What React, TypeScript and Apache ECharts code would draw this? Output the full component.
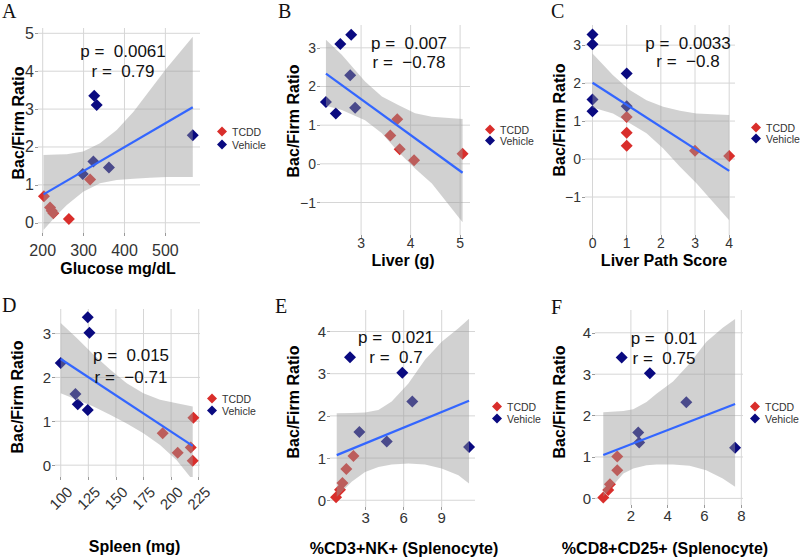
import React, { useEffect, useRef } from "react";
import * as echarts from "echarts";

const FONT = '"Liberation Sans", Arial, Helvetica, sans-serif';
const SERIF = '"Liberation Serif", "Times New Roman", serif';
const RED = "#D92E2B";
const NAVY = "#0A0A80";
const FIT_BLUE = "#3366FF";

// ---------- Panel A: Glucose ----------
const glucoseTicks = [200, 300, 400, 500];
const glucoseRatioTicks = [0, 1, 2, 3, 4, 5];
const glucoseTcdd = [[203, 0.7], [218, 0.4], [222, 0.32], [226, 0.25], [264, 0.1], [316, 1.14]];
const glucoseVehicle = [[298, 1.29], [324, 1.62], [362, 1.46], [326, 3.35], [332, 3.11], [567, 2.31]];
const glucoseFit = [[202, 0.75], [567, 3.05]];
const glucoseBandX = [202, 234, 259, 299, 340, 381, 422, 462, 503, 567];
const glucoseBandUpper = [1.79, 1.8, 1.81, 1.88, 2.1, 2.45, 2.93, 3.5, 4.08, 4.91];
const glucoseBandLower = [-0.19, 0.2, 0.47, 0.82, 1.04, 1.13, 1.16, 1.19, 1.21, 1.21];

// ---------- Panel B: Liver (g) ----------
const liverTicks = [3, 4, 5];
const liverRatioTicks = [-1, 0, 1, 2, 3];
const liverTcdd = [[3.59, 0.73], [3.73, 1.15], [3.78, 0.38], [4.07, 0.09], [5.05, 0.26]];
const liverVehicle = [[2.29, 1.6], [2.49, 1.3], [2.58, 3.1], [2.8, 3.34], [2.78, 2.29], [2.88, 1.45]];
const liverFit = [[2.29, 2.33], [5.05, -0.23]];
const liverBandX = [2.29, 2.61, 3.08, 3.42, 3.75, 4.09, 4.43, 5.05];
const liverBandUpper = [3.21, 2.82, 2.13, 1.74, 1.52, 1.31, 1.22, 1.16];
const liverBandLower = [1.5, 1.39, 1.13, 0.79, 0.31, -0.12, -0.51, -1.51];

// ---------- Panel C: Liver Path Score ----------
const pathTicks = [0, 1, 2, 3, 4];
const pathRatioTicks = [-1, 0, 1, 2, 3];
const pathTcdd = [[1, 1.11], [1, 0.69], [1, 0.35], [3, 0.22], [4, 0.08]];
const pathVehicle = [[0, 3.28], [0, 3.02], [0, 1.57], [0, 1.26], [1, 2.25], [1, 1.39]];
const pathFit = [[0, 2.01], [4, -0.31]];
const pathBandX = [0, 0.6, 1.09, 1.58, 2.07, 2.56, 3.04, 4.0];
const pathBandUpper = [2.78, 2.21, 1.82, 1.55, 1.38, 1.27, 1.2, 1.16];
const pathBandLower = [1.36, 1.2, 0.94, 0.68, 0.28, -0.2, -0.64, -1.61];

// ---------- Panel D: Spleen (mg) ----------
const spleenTicks = [100, 125, 150, 175, 200, 225];
const spleenRatioTicks = [0, 1, 2, 3];
const spleenTcdd = [[192.4, 0.73], [206, 0.28], [217.8, 0.4], [219.6, 0.1], [220.2, 1.08]];
const spleenVehicle = [[100, 2.33], [124.5, 3.37], [126, 3.02], [113.3, 1.62], [115.4, 1.39], [124.5, 1.26]];
const spleenFit = [[100, 2.42], [219.6, 0.44]];
const spleenBandX = [100, 114.5, 129.6, 144.7, 159.8, 174.9, 190, 205.1, 219.6];
const spleenBandUpper = [3.24, 2.9, 2.52, 2.18, 1.87, 1.64, 1.49, 1.41, 1.34];
const spleenBandLower = [1.64, 1.49, 1.34, 1.15, 0.95, 0.73, 0.46, 0.11, -0.34];

// ---------- Panel E: %CD3+NK+ ----------
const nkTicks = [3, 6, 9];
const nkRatioTicks = [0, 1, 2, 3, 4];
const nkTcdd = [[2.03, 1.05], [1.47, 0.74], [1.16, 0.41], [0.97, 0.25], [0.66, 0.07]];
const nkVehicle = [[1.76, 3.39], [5.89, 3.02], [6.68, 2.34], [2.5, 1.62], [4.66, 1.39], [11.16, 1.26]];
const nkFit = [[0.71, 1.07], [11.16, 2.36]];
const nkBandX = [0.71, 1.89, 2.95, 4.0, 5.05, 6.37, 7.68, 9.0, 10.32, 11.16];
const nkBandUpper = [2.06, 2.07, 2.08, 2.14, 2.34, 2.77, 3.33, 3.76, 4.08, 4.3];
const nkBandLower = [0.08, 0.44, 0.67, 0.79, 0.85, 0.87, 0.85, 0.75, 0.59, 0.4];

// ---------- Panel F: %CD8+CD25+ ----------
const cd25Ticks = [2, 4, 6, 8];
const cd25RatioTicks = [0, 1, 2, 3, 4];
const cd25Tcdd = [[1.26, 1.01], [1.26, 0.68], [0.86, 0.34], [0.77, 0.2], [0.5, 0.02]];
const cd25Vehicle = [[1.5, 3.4], [3.03, 3.02], [5.01, 2.32], [2.4, 1.59], [2.45, 1.35], [7.66, 1.22]];
const cd25Fit = [[0.5, 1.05], [7.66, 2.28]];
const cd25BandX = [0.5, 1.59, 2.13, 2.85, 3.39, 4.29, 5.19, 6.09, 6.99, 7.66];
const cd25BandUpper = [2.08, 2.11, 2.15, 2.33, 2.53, 2.82, 3.26, 3.78, 4.12, 4.33];
const cd25BandLower = [0.04, 0.6, 0.72, 0.8, 0.82, 0.82, 0.79, 0.68, 0.48, 0.28];

const panelLetters = ["A", "B", "C", "D", "E", "F"];
const xTitles = ["Glucose mg/dL", "Liver (g)", "Liver Path Score", "Spleen (mg)", "%CD3+NK+ (Splenocyte)", "%CD8+CD25+ (Splenocyte)"];
const yTitle = "Bac/Firm Ratio";
const pTexts = ["p =  0.0061", "p =  0.007", "p =  0.0033", "p =  0.015", "p =  0.021", "p =  0.01"];
const rTexts = ["r =  0.79", "r =  \u22120.78", "r =  \u22120.8", "r =  \u22120.71", "r =  0.7", "r =  0.75"];
const groupNames = ["TCDD", "Vehicle"];

const panelData = [
  { xTicks: glucoseTicks, yTicks: glucoseRatioTicks, tcdd: glucoseTcdd, vehicle: glucoseVehicle, fit: glucoseFit, bx: glucoseBandX, up: glucoseBandUpper, lo: glucoseBandLower },
  { xTicks: liverTicks, yTicks: liverRatioTicks, tcdd: liverTcdd, vehicle: liverVehicle, fit: liverFit, bx: liverBandX, up: liverBandUpper, lo: liverBandLower },
  { xTicks: pathTicks, yTicks: pathRatioTicks, tcdd: pathTcdd, vehicle: pathVehicle, fit: pathFit, bx: pathBandX, up: pathBandUpper, lo: pathBandLower },
  { xTicks: spleenTicks, yTicks: spleenRatioTicks, tcdd: spleenTcdd, vehicle: spleenVehicle, fit: spleenFit, bx: spleenBandX, up: spleenBandUpper, lo: spleenBandLower },
  { xTicks: nkTicks, yTicks: nkRatioTicks, tcdd: nkTcdd, vehicle: nkVehicle, fit: nkFit, bx: nkBandX, up: nkBandUpper, lo: nkBandLower },
  { xTicks: cd25Ticks, yTicks: cd25RatioTicks, tcdd: cd25Tcdd, vehicle: cd25Vehicle, fit: cd25Fit, bx: cd25BandX, up: cd25BandUpper, lo: cd25BandLower },
];

// layout (pixel positions, axis extents)
const layouts = [
  { grid: { left: 38, top: 28, width: 162, height: 205 }, xr: [188.5, 584.7], yr: [-0.27, 5.14], fs: 16, xm: 9, rot: 0,
    letter: [2, 11], xt: [118, 268], yt: [18, 123], p: [123, 51], r: [123, 71], legend: [212, 121, 2] },
  { grid: { left: 320, top: 25, width: 150, height: 210 }, xr: [2.17, 5.2], yr: [-1.84, 3.59], fs: 14, xm: 1, rot: 0,
    letter: [278, 11], xt: [403, 260], yt: [293, 121], p: [409, 43], r: [409, 62], legend: [480, 119, 0] },
  { grid: { left: 585, top: 25, width: 150, height: 210 }, xr: [-0.22, 4.17], yr: [-2.0, 3.53], fs: 14, xm: 1, rot: 0,
    letter: [551, 11], xt: [664, 260], yt: [559, 120], p: [688, 43], r: [688, 61], legend: [746, 117, 0] },
  { grid: { left: 55, top: 309, width: 145, height: 168 }, xr: [94.8, 226.2], yr: [-0.27, 3.56], fs: 15, xm: 21, rot: 45,
    letter: [2, 305], xt: [134.5, 546], yt: [17, 397], p: [131, 355], r: [131, 377], legend: [202, 388, 1] },
  { grid: { left: 330, top: 310, width: 145, height: 197 }, xr: [0.18, 11.63], yr: [-0.16, 4.51], fs: 15, xm: 3, rot: 0,
    letter: [275, 306], xt: [404, 548], yt: [293, 402], p: [396, 337], r: [396, 357], legend: [487, 396, 1] },
  { grid: { left: 595, top: 310, width: 148, height: 195 }, xr: [0.05, 8.09], yr: [-0.16, 4.55], fs: 15, xm: 3, rot: 0,
    letter: [551, 307], xt: [665, 548], yt: [559.5, 402], p: [664, 338], r: [664, 358], legend: [745, 396, 1] },
];

const fmt = (v: number) => (v < 0 ? "\u2212" + Math.abs(v) : String(v));

function buildOption() {
  const grid: any[] = [];
  const xAxis: any[] = [];
  const yAxis: any[] = [];
  const series: any[] = [];
  const legend: any[] = [];
  const graphic: any[] = [];

  panelData.forEach((d, i) => {
    const L = layouts[i];
    grid.push({ ...L.grid, containLabel: false });
    const common = {
      type: "value",
      gridIndex: i,
      axisLine: { show: false, onZero: false },
      splitLine: { show: false },
    };
    xAxis.push({
      ...common,
      min: L.xr[0],
      max: L.xr[1],
      axisTick: { show: true, length: 3, lineStyle: { color: "#999" }, customValues: d.xTicks },
      axisLabel: {
        customValues: d.xTicks,
        formatter: fmt,
        fontSize: L.fs,
        fontFamily: FONT,
        color: "#333",
        margin: L.xm,
        rotate: L.rot,
        ...(L.rot ? { align: "center", verticalAlign: "middle" } : {}),
      },
    });
    yAxis.push({
      ...common,
      min: L.yr[0],
      max: L.yr[1],
      axisTick: { show: true, length: 3, lineStyle: { color: "#999" }, customValues: d.yTicks },
      axisLabel: { customValues: d.yTicks, formatter: fmt, fontSize: L.fs, fontFamily: FONT, color: "#333", margin: 4 },
    });

    // gridlines at the tick values (drawn through the axis scales)
    series.push({
      type: "custom", name: "grid" + i, xAxisIndex: i, yAxisIndex: i, z: 1, clip: false, silent: true,
      data: [[d.xTicks[0], d.yTicks[0]]],
      renderItem: (params: any, api: any) => {
        const children: any[] = [];
        const style = { stroke: "#D6D6D6", lineWidth: 1 };
        d.xTicks.forEach((v) => {
          const a = api.coord([v, L.yr[0]]);
          const b = api.coord([v, L.yr[1]]);
          children.push({ type: "line", shape: { x1: a[0], y1: a[1], x2: b[0], y2: b[1] }, style });
        });
        d.yTicks.forEach((v) => {
          const a = api.coord([L.xr[0], v]);
          const b = api.coord([L.xr[1], v]);
          children.push({ type: "line", shape: { x1: a[0], y1: a[1], x2: b[0], y2: b[1] }, style });
        });
        return { type: "group", children };
      },
    });
    series.push({
      type: "scatter", name: "TCDD", xAxisIndex: i, yAxisIndex: i, data: d.tcdd,
      symbol: "diamond", symbolSize: 12, itemStyle: { color: RED, opacity: 1 }, z: 2,
    });
    series.push({
      type: "scatter", name: "Vehicle", xAxisIndex: i, yAxisIndex: i, data: d.vehicle,
      symbol: "diamond", symbolSize: 12, itemStyle: { color: NAVY, opacity: 1 }, z: 2,
    });
    series.push({
      type: "custom", name: "band" + i, xAxisIndex: i, yAxisIndex: i, z: 3, clip: true, silent: true,
      data: d.bx.map((x, k) => [x, d.up[k]]),
      renderItem: (params: any, api: any) => {
        if (params.dataIndex !== 0) return null;
        const pts: number[][] = [];
        for (let k = 0; k < d.bx.length; k++) pts.push(api.coord([d.bx[k], d.up[k]]));
        for (let k = d.bx.length - 1; k >= 0; k--) pts.push(api.coord([d.bx[k], d.lo[k]]));
        return { type: "polygon", shape: { points: pts }, style: { fill: "#999999", opacity: 0.45 } };
      },
    });
    series.push({
      type: "line", name: "fit" + i, xAxisIndex: i, yAxisIndex: i, data: d.fit, symbol: "none", z: 4,
      lineStyle: { color: FIT_BLUE, width: 2.2 }, silent: true,
    });

    legend.push({
      orient: "vertical", left: L.legend[0], top: L.legend[1], itemGap: L.legend[2],
      itemWidth: 10, itemHeight: 10, icon: "diamond", selectedMode: false,
      data: groupNames, textStyle: { fontSize: 10.5, fontFamily: FONT, color: "#333" },
    });

    graphic.push({
      type: "text", left: L.letter[0], top: L.letter[1] - 10,
      style: { text: panelLetters[i], font: `20px ${SERIF}`, fill: "#111" },
    });
    graphic.push({
      type: "text", x: L.xt[0], y: L.xt[1],
      style: { text: xTitles[i], font: `bold 16px ${FONT}`, fill: "#000", align: "center", verticalAlign: "middle" },
    });
    graphic.push({
      type: "text", x: L.yt[0], y: L.yt[1], rotation: Math.PI / 2,
      style: { text: yTitle, font: `bold 16px ${FONT}`, fill: "#000", align: "center", verticalAlign: "middle" },
    });
    graphic.push({
      type: "text", x: L.p[0], y: L.p[1], z: 10,
      style: { text: pTexts[i], font: `17px ${FONT}`, fill: "#111", align: "center", verticalAlign: "middle" },
    });
    graphic.push({
      type: "text", x: L.r[0], y: L.r[1], z: 10,
      style: { text: rTexts[i], font: `17px ${FONT}`, fill: "#111", align: "center", verticalAlign: "middle" },
    });
  });

  return {
    animation: false,
    backgroundColor: "#fff",
    grid, xAxis, yAxis, series, legend, graphic,
  };
}

export default function App() {
  const ref = useRef<HTMLDivElement>(null);
  useEffect(() => {
    if (!ref.current) return;
    const chart = echarts.init(ref.current, null, { renderer: "svg" });
    chart.setOption(buildOption() as any);
    return () => chart.dispose();
  }, []);
  return (
    <div
      ref={ref}
      style={{ position: "fixed", left: 0, top: 0, width: 800, height: 559, background: "#fff" }}
    />
  );
}
